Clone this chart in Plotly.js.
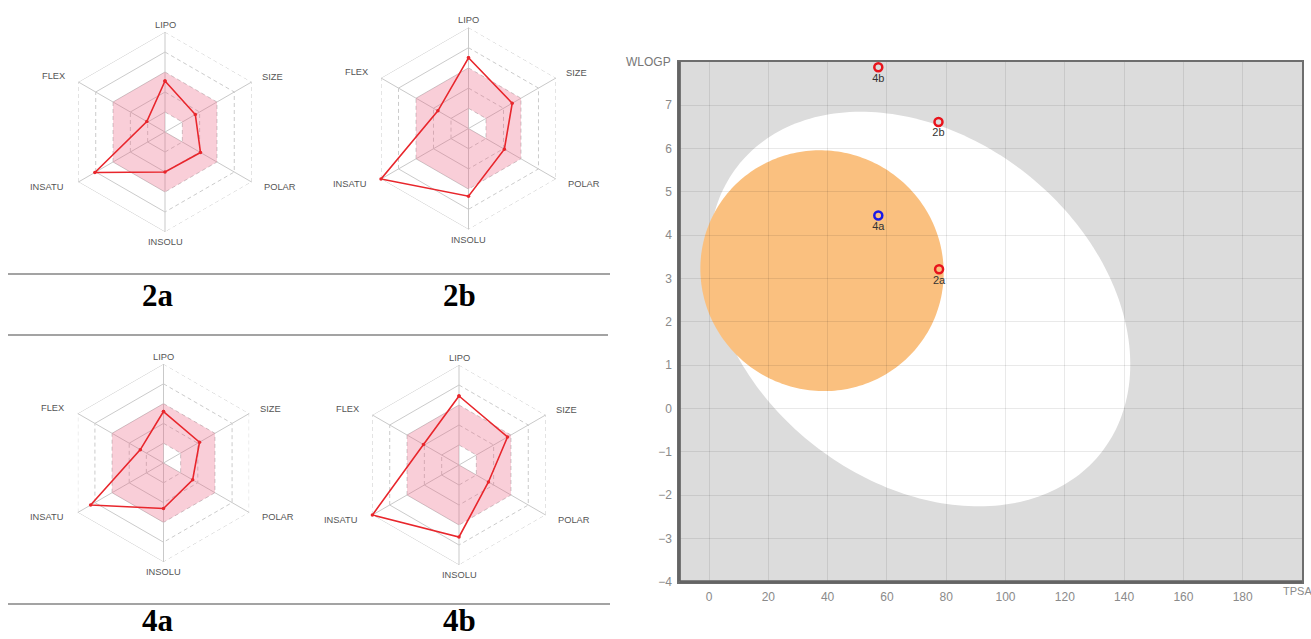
<!DOCTYPE html>
<html>
<head>
<meta charset="utf-8">
<script src="https://cdn.plot.ly/plotly-3.0.1.min.js"></script>
<style>
  html, body { margin: 0; padding: 0; background: #ffffff; }
  #chart { width: 1311px; height: 639px; }
</style>
</head>
<body>
<div id="chart"></div>
<script>
// ---------- data ----------
// Bioavailability radar axes (clockwise from the top)
const radarAxes = ['LIPO', 'SIZE', 'POLAR', 'INSOLU', 'INSATU', 'FLEX'];

// Normalised physicochemical profile of each compound (0 = centre, 1 = outer hexagon)
const radar2a = [0.51, 0.35, 0.41, 0.40, 0.81, 0.21];
const radar2b = [0.70, 0.50, 0.41, 0.67, 1.00, 0.35];
const radar4a = [0.52, 0.42, 0.34, 0.46, 0.85, 0.27];
const radar4b = [0.69, 0.56, 0.34, 0.72, 1.00, 0.41];

// Optimal (pink) zone: inner and outer limit along each axis
const optimalInner = [0.2, 0.2, 0.2, 0.0, 0.0, 0.0];
const optimalOuter = [0.6, 0.6, 0.6, 0.6, 0.6, 0.6];

// Hexagonal grid rings
const gridLevels = [0.2, 0.4, 0.6, 0.8, 1.0];

// BOILED-Egg: compounds, TPSA (Å²) and WLOGP
const eggNames = ['2a', '2b', '4a', '4b'];
const eggTPSA = [77.6, 77.4, 57.1, 57.1];
const eggWLOGP = [3.21, 6.61, 4.45, 7.87];
const pgpSubstrate = [false, false, true, false];

// Tick values of the egg plot
const xTickVals = [0, 20, 40, 60, 80, 100, 120, 140, 160, 180];
const yTickVals = [-4, -3, -2, -1, 0, 1, 2, 3, 4, 5, 6, 7];

// BOILED-Egg model ellipses (centre, full axes, rotation in degrees)
const hiaEllipse = { cx: 71.051, cy: 2.292, major: 142.081, minor: 8.740, angleDeg: -1.031325 };
const bbbEllipse = { cx: 38.117, cy: 3.177, major: 82.061, minor: 5.557, angleDeg: -0.066019 };

// ---------- page geometry ----------
const W = 1311, H = 639;
const px = v => v / W;
const py = v => 1 - v / H;

const radarPanels = [
  { label: '2a', values: radar2a, cx: 165, cy: 132, R: 100, labelX: 158, labelY: 295, anchor: 'middle' },
  { label: '2b', values: radar2b, cx: 468.5, cy: 128.5, R: 101, labelX: 459, labelY: 295, anchor: 'middle' },
  { label: '4a', values: radar4a, cx: 163.5, cy: 463, R: 99, labelX: 158, labelY: 639, anchor: 'bottom' },
  { label: '4b', values: radar4b, cx: 459, cy: 465, R: 100, labelX: 459, labelY: 639, anchor: 'bottom' }
];

// where each axis name sits relative to the radar centre (per unit radius)
const axisLabelPlacement = {
  LIPO:   { dx: 0,     dy: -1.07, anchor: 'center' },
  SIZE:   { dx: 0.95,  dy: -0.55, anchor: 'left' },
  POLAR:  { dx: 0.97,  dy: 0.55,  anchor: 'left' },
  INSOLU: { dx: 0,     dy: 1.10,  anchor: 'center' },
  INSATU: { dx: -1.00, dy: 0.55,  anchor: 'right' },
  FLEX:   { dx: -0.98, dy: -0.56, anchor: 'right' }
};

const traces = [];
const layout = {
  width: W, height: H, autosize: false,
  margin: { l: 0, r: 0, t: 0, b: 0 },
  paper_bgcolor: '#ffffff',
  plot_bgcolor: '#dcdcdc',
  showlegend: false,
  font: { family: 'Liberation Sans, Arial, sans-serif' },
  shapes: [],
  annotations: []
};

// ---------- radar panels ----------
function ringTrace(sub, segments, dash, color) {
  const theta = [], r = [];
  gridLevels.forEach(level => {
    segments.forEach(seg => {
      seg.forEach(name => { theta.push(name); r.push(level); });
      theta.push(seg[0]); r.push(null);
    });
  });
  return {
    type: 'scatterpolar', subplot: sub, mode: 'lines', theta, r,
    connectgaps: false, hoverinfo: 'skip',
    line: { color, width: 1, dash }
  };
}

radarPanels.forEach((p, i) => {
  const sub = i === 0 ? 'polar' : 'polar' + (i + 1);

  // dashed and solid ring edges
  traces.push(ringTrace(sub, [['LIPO', 'SIZE', 'POLAR', 'INSOLU'], ['INSATU', 'FLEX']], '4px,3px', '#cbcbcb'));
  traces.push(ringTrace(sub, [['FLEX', 'LIPO'], ['INSOLU', 'INSATU']], 'solid', '#cbcbcb'));

  // optimal zone (outer ring clockwise, inner ring back the other way)
  const backOrder = ['LIPO', 'FLEX', 'INSATU', 'INSOLU', 'POLAR', 'SIZE', 'LIPO'];
  const inner = name => optimalInner[radarAxes.indexOf(name)];
  traces.push({
    type: 'scatterpolar', subplot: sub, mode: 'lines',
    theta: radarAxes.concat(['LIPO']).concat(backOrder),
    r: optimalOuter.concat([optimalOuter[0]]).concat(backOrder.map(inner)),
    fill: 'toself', fillcolor: 'rgba(236,96,128,0.31)', line: { width: 0, color: 'rgba(0,0,0,0)' },
    hoverinfo: 'skip'
  });

  // compound profile
  traces.push({
    type: 'scatterpolar', subplot: sub, mode: 'lines+markers', name: p.label,
    theta: radarAxes.concat([radarAxes[0]]), r: p.values.concat([p.values[0]]),
    line: { color: '#e8262c', width: 1.6 },
    marker: { color: '#e8262c', size: 3.5 }
  });

  layout[sub] = {
    domain: { x: [px(p.cx - p.R), px(p.cx + p.R)], y: [py(p.cy + p.R), py(p.cy - p.R)] },
    gridshape: 'linear',
    bgcolor: 'rgba(0,0,0,0)',
    radialaxis: { range: [0, 1], visible: false, showgrid: false },
    angularaxis: {
      type: 'category', categoryorder: 'array', categoryarray: radarAxes,
      rotation: 90, direction: 'clockwise',
      showgrid: true, gridcolor: '#c9c9c9', gridwidth: 1,
      showline: false, ticks: '', showticklabels: false
    }
  };

  // axis names
  radarAxes.forEach(name => {
    const pl = axisLabelPlacement[name];
    layout.annotations.push({
      xref: 'paper', yref: 'paper',
      x: px(p.cx + pl.dx * p.R), y: py(p.cy + pl.dy * p.R),
      xanchor: pl.anchor, yanchor: 'middle', showarrow: false, text: name,
      font: { family: 'Liberation Sans, Arial, sans-serif', size: 9.3, color: '#555555' }
    });
  });

  // compound label under the panel
  layout.annotations.push({
    xref: 'paper', yref: 'paper', x: px(p.labelX), y: py(p.labelY),
    xanchor: 'center', yanchor: p.anchor, showarrow: false,
    text: '<b>' + p.label + '</b>',
    font: { family: 'Liberation Serif, Times New Roman, serif', size: 31, color: '#000000' },
    borderpad: 0
  });
});

// separator rules between the radar rows
[[8, 610, 274], [8, 608, 335], [8, 610, 604]].forEach(([x0, x1, y]) => {
  layout.shapes.push({
    type: 'line', xref: 'paper', yref: 'paper',
    x0: px(x0), x1: px(x1), y0: py(y), y1: py(y),
    line: { color: '#858585', width: 1.5 }
  });
});

// ---------- BOILED-Egg ----------
function ellipsePath(e, n) {
  const th = e.angleDeg * Math.PI / 180;
  const a = e.major / 2, b = e.minor / 2;
  let d = '';
  for (let i = 0; i <= n; i++) {
    const t = 2 * Math.PI * i / n;
    const x = e.cx + a * Math.cos(t) * Math.cos(th) - b * Math.sin(t) * Math.sin(th);
    const y = e.cy + a * Math.cos(t) * Math.sin(th) + b * Math.sin(t) * Math.cos(th);
    d += (i ? 'L' : 'M') + x.toFixed(3) + ',' + y.toFixed(4);
  }
  return d + 'Z';
}

layout.shapes.push({
  type: 'path', xref: 'x', yref: 'y', layer: 'below',
  path: ellipsePath(hiaEllipse, 240),
  fillcolor: '#ffffff', line: { width: 0 }
});
layout.shapes.push({
  type: 'path', xref: 'x', yref: 'y', layer: 'below',
  path: ellipsePath(bbbEllipse, 240),
  fillcolor: '#fac07f', line: { width: 0 }
});

traces.push({
  type: 'scatter', xaxis: 'x', yaxis: 'y', mode: 'markers+text',
  x: eggTPSA, y: eggWLOGP, text: eggNames,
  textposition: 'bottom center',
  textfont: { family: 'Liberation Sans, Arial, sans-serif', size: 11, color: '#333333' },
  marker: {
    symbol: 'circle-open', size: 8,
    color: pgpSubstrate.map(s => s ? '#1a1ae6' : '#e8141c'),
    line: { width: 2.5 }
  },
  hoverinfo: 'x+y+text'
});

const egX0 = 679.35, egX1 = 1302, egY0 = 61.7, egY1 = 581.7;
const tickFont = { family: 'Liberation Sans, Arial, sans-serif', size: 12, color: '#8a8a8a' };
layout.xaxis = {
  domain: [px(egX0), px(egX1)], anchor: 'y',
  range: [-10, 200], tickvals: xTickVals,
  showgrid: true, gridcolor: 'rgba(0,0,0,0.085)', gridwidth: 1, zeroline: false,
  showline: true, mirror: true, linecolor: '#6e6e6e', linewidth: 2,
  ticks: 'outside', ticklen: 3, tickcolor: 'rgba(0,0,0,0)',
  tickfont: tickFont
};
layout.yaxis = {
  domain: [py(egY1), py(egY0)], anchor: 'x',
  range: [-4, 8], tickvals: yTickVals,
  showgrid: true, gridcolor: 'rgba(0,0,0,0.085)', gridwidth: 1, zeroline: false,
  showline: true, mirror: true, linecolor: '#6e6e6e', linewidth: 2,
  ticks: 'outside', ticklen: 3, tickcolor: 'rgba(0,0,0,0)',
  tickfont: tickFont
};

// heavier left and bottom frame edges
layout.shapes.push({
  type: 'line', xref: 'paper', yref: 'paper',
  x0: px(egX0), x1: px(egX0), y0: py(egY1), y1: py(egY0),
  line: { color: '#646464', width: 3 }
});
layout.shapes.push({
  type: 'line', xref: 'paper', yref: 'paper',
  x0: px(egX0), x1: px(egX1), y0: py(egY1), y1: py(egY1),
  line: { color: '#646464', width: 3 }
});

layout.annotations.push({
  xref: 'paper', yref: 'paper', x: px(673), y: py(62),
  xanchor: 'right', yanchor: 'middle', showarrow: false, text: 'WLOGP',
  font: { family: 'Liberation Sans, Arial, sans-serif', size: 12, color: '#777777' }
});
layout.annotations.push({
  xref: 'paper', yref: 'paper', x: px(1282), y: py(591),
  xanchor: 'left', yanchor: 'middle', showarrow: false, text: 'TPSA',
  font: { family: 'Liberation Sans, Arial, sans-serif', size: 11, color: '#8a8a8a' },
  borderpad: 0
});

Plotly.newPlot('chart', traces, layout, { staticPlot: true });
</script>
</body>
</html>
